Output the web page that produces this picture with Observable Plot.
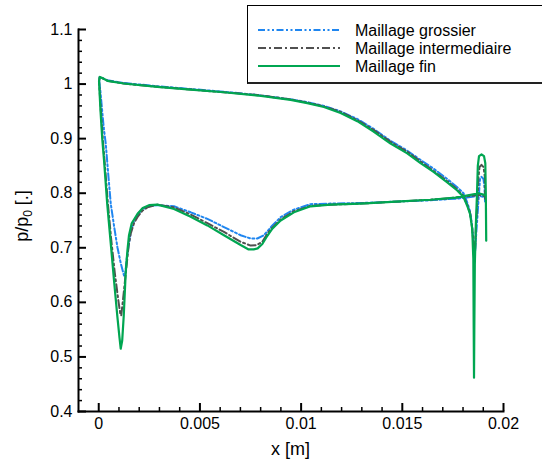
<!DOCTYPE html>
<html><head><meta charset="utf-8">
<script src="https://cdn.jsdelivr.net/npm/d3@7"></script>
<script src="https://cdn.jsdelivr.net/npm/@observablehq/plot@0.6"></script>
<style>
body{margin:0;background:#fff;font-family:"Liberation Sans",Arial,Helvetica,sans-serif;}
#wrap{position:relative;width:542px;height:464px;overflow:hidden;}
#chart{position:absolute;left:0;top:0;}
#legend{position:absolute;left:247px;top:5px;width:310px;height:79px;border:1px solid #000;border-bottom:2px solid #222;background:#fff;box-sizing:border-box;}
</style></head><body><div id="wrap"><div id="chart"></div><div id="legend"></div></div>
<script>
const seriesNames = ["Maillage grossier", "Maillage intermediaire", "Maillage fin"];
const seriesColors = ["#1f86f0", "#505050", "#00a651"];
const seriesDash = ["7,2.5,2,2.5,2,2.5", "8,3,2,3", "none"];

const xFin = [0.019146,0.019126,0.019101,0.019037,0.018914,0.018790,0.018731,0.018691,0.018632,0.018583,0.018558,0.018543,0.018528,0.018509,0.018454,0.018346,0.018207,0.018025,0.017714,0.017220,0.016543,0.015901,0.015244,0.014420,0.013580,0.012775,0.011951,0.011126,0.010306,0.009481,0.007837,0.006173,0.004543,0.002899,0.001235,0.000430,0.000123,0.000049,0.000015,0.000089,0.000173,0.000262,0.000420,0.000593,0.000756,0.000923,0.001027,0.001086,0.001160,0.001235,0.001333,0.001417,0.001496,0.001630,0.001911,0.002173,0.002484,0.002899,0.003719,0.004543,0.005368,0.006188,0.007012,0.007407,0.007654,0.007852,0.008084,0.008331,0.008578,0.008988,0.009644,0.010469,0.011457,0.012938,0.014914,0.016395,0.017630,0.018370,0.018765,0.019062];
const yFin = [0.713,0.800,0.855,0.868,0.871,0.868,0.850,0.800,0.740,0.670,0.550,0.462,0.550,0.680,0.735,0.762,0.777,0.793,0.805,0.820,0.839,0.855,0.873,0.891,0.913,0.932,0.947,0.958,0.965,0.971,0.979,0.985,0.990,0.995,1.001,1.006,1.012,1.013,1.005,0.950,0.900,0.860,0.780,0.708,0.640,0.573,0.535,0.515,0.530,0.575,0.655,0.695,0.723,0.745,0.762,0.773,0.778,0.779,0.771,0.757,0.741,0.723,0.705,0.697,0.697,0.699,0.707,0.722,0.735,0.750,0.765,0.776,0.779,0.781,0.785,0.788,0.792,0.797,0.800,0.797];

const xInter = [0.019086,0.019077,0.019012,0.018914,0.018815,0.018765,0.018716,0.018642,0.018593,0.018568,0.018533,0.018494,0.018444,0.018346,0.018207,0.018025,0.017714,0.017220,0.016543,0.015901,0.015244,0.014420,0.013580,0.012775,0.011951,0.011126,0.010306,0.009481,0.007837,0.006173,0.004543,0.002899,0.001235,0.000430,0.000123,0.000049,0.000015,0.000099,0.000198,0.000296,0.000444,0.000617,0.000790,0.000963,0.001062,0.001111,0.001185,0.001284,0.001383,0.001481,0.001580,0.001743,0.001911,0.002158,0.002405,0.002899,0.003719,0.004543,0.005368,0.006188,0.007012,0.007506,0.007802,0.008084,0.008331,0.008578,0.008988,0.009644,0.010469,0.011457,0.012938,0.014914,0.016395,0.017630,0.018370,0.018765,0.019062];
const yInter = [0.790,0.830,0.848,0.852,0.848,0.830,0.790,0.740,0.695,0.676,0.690,0.718,0.738,0.764,0.779,0.795,0.807,0.822,0.841,0.858,0.876,0.894,0.916,0.934,0.949,0.959,0.966,0.972,0.980,0.985,0.990,0.995,1.001,1.006,1.012,1.013,1.005,0.955,0.900,0.855,0.785,0.715,0.655,0.605,0.580,0.576,0.600,0.635,0.670,0.705,0.726,0.745,0.756,0.768,0.774,0.779,0.774,0.761,0.745,0.729,0.711,0.704,0.705,0.711,0.726,0.737,0.752,0.767,0.777,0.779,0.781,0.785,0.788,0.792,0.795,0.797,0.795];

const xGros = [0.019086,0.019062,0.019012,0.018914,0.018840,0.018790,0.018716,0.018642,0.018593,0.018568,0.018533,0.018494,0.018444,0.018346,0.018207,0.018025,0.017714,0.017220,0.016543,0.015901,0.015244,0.014420,0.013580,0.012775,0.011951,0.011126,0.010306,0.009481,0.007837,0.006173,0.004543,0.002899,0.001235,0.000430,0.000123,0.000049,0.000025,0.000074,0.000148,0.000247,0.000346,0.000469,0.000593,0.000756,0.000923,0.001086,0.001249,0.001309,0.001383,0.001481,0.001605,0.001743,0.001975,0.002237,0.002568,0.002899,0.003719,0.004543,0.005368,0.006188,0.007012,0.007506,0.007837,0.008163,0.008578,0.008988,0.009644,0.010469,0.011457,0.012938,0.014914,0.016395,0.017630,0.018370,0.018765,0.019062];
const yGros = [0.785,0.810,0.826,0.830,0.826,0.800,0.760,0.720,0.690,0.678,0.695,0.720,0.742,0.767,0.783,0.800,0.811,0.826,0.845,0.861,0.878,0.896,0.918,0.936,0.950,0.960,0.967,0.972,0.980,0.986,0.991,0.996,1.002,1.007,1.012,1.013,1.005,0.990,0.960,0.920,0.891,0.835,0.781,0.740,0.701,0.672,0.649,0.652,0.680,0.705,0.733,0.750,0.764,0.772,0.777,0.778,0.776,0.765,0.753,0.738,0.723,0.717,0.717,0.723,0.741,0.756,0.770,0.780,0.781,0.782,0.785,0.787,0.790,0.793,0.795,0.793];

const xTicks = [0, 0.005, 0.01, 0.015, 0.02];
const yTicks = [0.4, 0.5, 0.6, 0.7, 0.8, 0.9, 1.0, 1.1];
const xDomain = [-0.001, 0.02];
const yDomain = [0.4, 1.1];

const W = 542, H = 464, mL = 78, mR = 39, mT = 29, mB = 53;
const pw = W - mL - mR, ph = H - mT - mB;
const font = '"Liberation Sans", Arial, Helvetica, sans-serif';
const fmt = d => String(+d.toFixed(4));

const toRows = (xs, ys) => xs.map((x, i) => ({x, y: ys[i]}));
const rowsG = toRows(xGros, yGros), rowsI = toRows(xInter, yInter), rowsF = toRows(xFin, yFin);

const yMinor = d3.range(0.42, 1.1, 0.02).filter(v => Math.abs(v * 10 - Math.round(v * 10)) > 1e-6);
const xMinor = d3.range(0, 0.0201, 0.001).filter(v => Math.abs(v / 0.005 - Math.round(v / 0.005)) > 1e-6);

const svg = Plot.plot({
  width: W, height: H,
  marginLeft: mL, marginRight: mR, marginTop: mT, marginBottom: mB,
  x: {domain: xDomain},
  y: {domain: yDomain},
  style: {fontFamily: font, fontSize: "16px", color: "#000"},
  marks: [
    Plot.line(rowsG, {x: "x", y: "y", stroke: seriesColors[0], strokeWidth: 2, strokeDasharray: seriesDash[0]}),
    Plot.line(rowsI, {x: "x", y: "y", stroke: seriesColors[1], strokeWidth: 2, strokeDasharray: seriesDash[1]}),
    Plot.line(rowsF, {x: "x", y: "y", stroke: seriesColors[2], strokeWidth: 2.2}),
    Plot.frame({anchor: "left", stroke: "#000", strokeWidth: 2}),
    Plot.frame({anchor: "bottom", stroke: "#000", strokeWidth: 2}),
    // inward ticks: Plot's own axis ticks shifted into the frame
    Plot.axisY({ticks: yTicks, tickSize: 8, dx: 8, fill: "none", stroke: "#000", strokeWidth: 2, label: null}),
    Plot.axisY({ticks: yMinor, tickSize: 4, dx: 4, fill: "none", stroke: "#000", strokeWidth: 1.5, label: null}),
    Plot.axisX({ticks: xTicks, tickSize: 8, dy: -8, fill: "none", stroke: "#000", strokeWidth: 2, label: null}),
    Plot.axisX({ticks: xMinor, tickSize: 4, dy: -4, fill: "none", stroke: "#000", strokeWidth: 1.5, label: null}),
    // tick labels
    Plot.axisY({ticks: yTicks, tickSize: 0, tickPadding: 6, tickFormat: fmt, label: null, fontSize: 16}),
    Plot.axisX({ticks: xTicks, tickSize: 0, tickPadding: 6, tickFormat: fmt, label: null, fontSize: 16})
  ]
});

document.getElementById("chart").appendChild(svg);

const NS = "http://www.w3.org/2000/svg";
function addText(parent, attrs, content) {
  const t = document.createElementNS(NS, "text");
  for (const k in attrs) t.setAttribute(k, attrs[k]);
  if (content != null) t.textContent = content;
  parent.appendChild(t);
  return t;
}
addText(svg, {x: mL + pw / 2, y: 455, "text-anchor": "middle", "font-size": 18, "font-family": font, fill: "#000"}, "x [m]");
const yl = addText(svg, {transform: "translate(28,216) rotate(-90)", "text-anchor": "middle", "font-size": 18, "font-family": font, fill: "#000"});
const t1 = document.createElementNS(NS, "tspan"); t1.textContent = "p/p"; yl.appendChild(t1);
const t2 = document.createElementNS(NS, "tspan"); t2.setAttribute("font-size", 12); t2.setAttribute("dy", 4); t2.textContent = "0"; yl.appendChild(t2);
const t3 = document.createElementNS(NS, "tspan"); t3.setAttribute("dy", -4); t3.textContent = " [.]"; yl.appendChild(t3);

// legend
const lgSvg = document.createElementNS(NS, "svg");
lgSvg.setAttribute("width", 310); lgSvg.setAttribute("height", 78);
lgSvg.style.position = "absolute"; lgSvg.style.left = "-1px"; lgSvg.style.top = "-1px";
document.getElementById("legend").appendChild(lgSvg);
seriesNames.forEach((name, i) => {
  const y = 25 + i * 18;
  const ln = document.createElementNS(NS, "line");
  ln.setAttribute("x1", 11); ln.setAttribute("x2", 93); ln.setAttribute("y1", y); ln.setAttribute("y2", y);
  ln.setAttribute("stroke", seriesColors[i]); ln.setAttribute("stroke-width", 2);
  ln.setAttribute("stroke-dasharray", seriesDash[i]);
  lgSvg.appendChild(ln);
  addText(lgSvg, {x: 108, y: y + 6, "font-size": 16, "font-family": font, fill: "#000"}, name);
});
</script></body></html>
